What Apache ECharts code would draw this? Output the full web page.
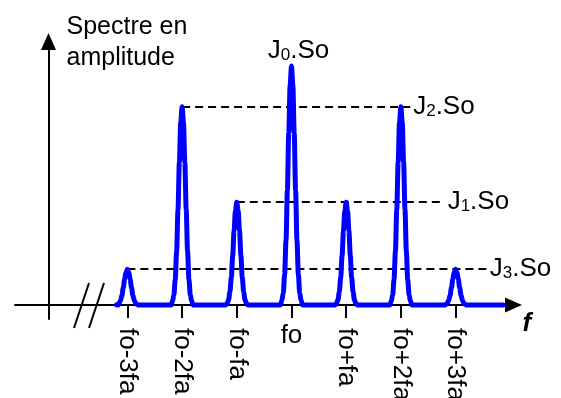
<!DOCTYPE html>
<html>
<head>
<meta charset="utf-8">
<script src="https://cdn.jsdelivr.net/npm/echarts@6/dist/echarts.min.js"></script>
<style>
    html, body { margin: 0; padding: 0; background: #fff; }
    #spectreChart { width: 561px; height: 398px; }
</style>
</head>
<body>
<div id="spectreChart"></div>
<script>
    // raies du spectre (position en multiples de fa autour de fo)
    const freqLabels = ['fo-3fa', 'fo-2fa', 'fo-fa', 'fo', 'fo+fa', 'fo+2fa', 'fo+3fa'];
    const peakPos = [-3, -2, -1, 0, 1, 2, 3];
    const peakAmp = [0.15, 0.83, 0.43, 1.0, 0.43, 0.83, 0.15];
    const peakName = ['3', '2', '1', '0', '1', '2', '3'];

    // forme d'une raie
    const profileOffset = [-0.2, -0.175, -0.15, -0.125, -0.1, -0.075, -0.05, -0.025, 0,
        0.025, 0.05, 0.075, 0.1, 0.125, 0.15, 0.175, 0.2];
    const profileShape = [0, 0.02, 0.05, 0.13, 0.27, 0.48, 0.72, 0.92, 1,
        0.92, 0.72, 0.48, 0.27, 0.13, 0.05, 0.02, 0];

    // debut / fin du trace bleu
    const spanStart = -3.17;
    const spanEnd = 3.87;

    // fin des pointilles J1, J2, J3
    const dashEnd = {'1': 2.80, '2': 2.17, '3': 3.57};

    const font = 'Liberation Sans, Arial, sans-serif';

    const spectre = [[spanStart, 0]];
    peakPos.forEach(function (p, i) {
        profileOffset.forEach(function (o, k) {
            spectre.push([p + o, peakAmp[i] * profileShape[k]]);
        });
    });
    spectre.push([spanEnd, 0]);

    const jLabel = function (n) {
        return '{a|J}{s|' + n + '}{a|.So}';
    };
    const jRich = {
        a: {fontSize: 26, fontFamily: font, color: '#000'},
        s: {fontSize: 17, fontFamily: font, color: '#000', verticalAlign: 'bottom'}
    };

    // pointilles : depuis la raie de gauche vers le libelle
    const dashLines = [];
    ['2', '1', '3'].forEach(function (n) {
        const i = peakName.indexOf(n);
        dashLines.push([
            {coord: [peakPos[i], peakAmp[i]]},
            {coord: [dashEnd[n], peakAmp[i]], label: {formatter: jLabel(n)}}
        ]);
    });
    const i0 = peakName.indexOf('0');

    const axisBlack = {color: '#000', width: 2};

    const option = {
        animation: false,
        grid: {left: 15, right: 47.5, top: 41.5, bottom: 79, outerBoundsMode: 'none', containLabel: false},
        xAxis: [
            {
                type: 'value',
                min: -5.055,
                max: 4.059,
                name: 'f',
                nameLocation: 'end',
                nameGap: 9,
                nameTextStyle: {
                    fontSize: 26, fontWeight: 'bold', fontStyle: 'italic', fontFamily: font,
                    color: '#000', align: 'left', verticalAlign: 'top', padding: [6, 0, 0, 0]
                },
                axisLine: {onZero: true, lineStyle: axisBlack, symbol: ['none', 'triangle'], symbolSize: [15, 17]},
                axisTick: {show: true, customValues: peakPos, length: 13, lineStyle: axisBlack},
                axisLabel: {
                    customValues: peakPos.filter(function (p) { return p !== 0; }),
                    rotate: -90,
                    margin: 9,
                    fontSize: 26,
                    fontFamily: font,
                    color: '#000',
                    formatter: function (v) { return freqLabels[peakPos.indexOf(v)]; }
                },
                splitLine: {show: false}
            },
            {
                type: 'value',
                position: 'bottom',
                min: -5.055,
                max: 4.059,
                axisLine: {show: false, onZero: true},
                axisTick: {show: false},
                axisLabel: {
                    customValues: [0],
                    margin: 4,
                    fontSize: 26,
                    fontFamily: font,
                    color: '#000',
                    formatter: function (v) { return freqLabels[peakPos.indexOf(v)]; }
                },
                splitLine: {show: false}
            }
        ],
        yAxis: {
            type: 'value',
            min: -0.0586,
            max: 1.1025,
            offset: -33.5,
            name: 'Spectre en\namplitude',
            nameLocation: 'end',
            nameGap: 30,
            nameTextStyle: {
                fontSize: 25, fontFamily: font, color: '#000', lineHeight: 31,
                align: 'left', verticalAlign: 'top', padding: [0, 0, 0, 18]
            },
            axisLine: {onZero: false, lineStyle: axisBlack, symbol: ['none', 'triangle'], symbolSize: [15, 17]},
            axisTick: {show: false},
            axisLabel: {show: false},
            splitLine: {show: false}
        },
        graphic: [
            {type: 'line', shape: {x1: 89, y1: 283, x2: 74, y2: 328}, style: {stroke: '#000', lineWidth: 2}},
            {type: 'line', shape: {x1: 104, y1: 283, x2: 89, y2: 328}, style: {stroke: '#000', lineWidth: 2}}
        ],
        series: [
            {
                type: 'line',
                data: spectre,
                showSymbol: false,
                smooth: 0.3,
                smoothMonotone: 'x',
                lineStyle: {color: '#0000ff', width: 5, cap: 'round', join: 'round'},
                z: 5,
                markLine: {
                    silent: true,
                    symbol: ['none', 'none'],
                    lineStyle: {color: '#000', width: 2, type: [8, 5]},
                    label: {show: true, position: 'end', distance: 3, rich: jRich},
                    data: dashLines
                },
                markPoint: {
                    silent: true,
                    symbol: 'circle',
                    symbolSize: 0,
                    label: {show: true, position: 'top', distance: 2, offset: [7, 0], formatter: jLabel('0'), rich: jRich},
                    data: [{coord: [peakPos[i0], peakAmp[i0]]}]
                }
            }
        ]
    };

    const spectreChart = echarts.init(document.getElementById('spectreChart'));
    spectreChart.setOption(option);
    window.addEventListener('resize', function () { spectreChart.resize(); });
</script>
</body>
</html>
